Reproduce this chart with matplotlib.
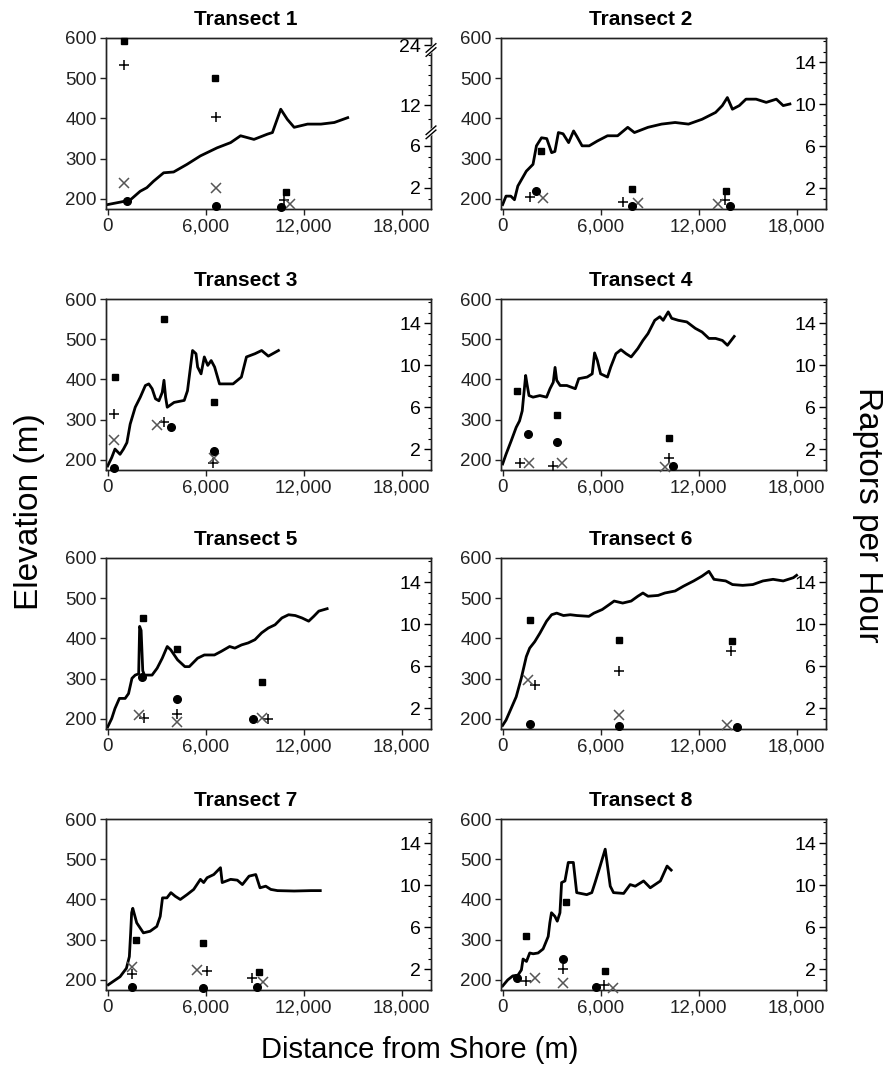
import matplotlib
matplotlib.use("Agg")
import matplotlib.pyplot as plt
import numpy as np
from matplotlib.ticker import FixedLocator, MultipleLocator

plt.rcParams['font.family'] = ['Liberation Sans', 'DejaVu Sans']

# elevation profiles (distance from shore m, elevation m)
t1_dist = [0, 760, 1370, 1990, 2400, 2810, 3430, 4040, 4860, 5680, 6700, 7530, 8140, 8960, 9780,
           10090, 10600, 11000, 11420, 12240, 13060, 13880, 14700]
t1_elev = [186, 192, 197, 219, 228, 244, 265, 267, 286, 307, 327, 340, 357, 348, 361,
           365, 423, 398, 378, 386, 386, 390, 402]

t2_dist = [0, 207, 500, 724, 930, 1450, 1860, 2070, 2380, 2700, 3000, 3200, 3415, 3700, 4040, 4345,
           4550, 4865, 5300, 5800, 6420, 7040, 7660, 8070, 8900, 9730, 10560, 11380, 12210, 13040,
           13450, 13760, 14070, 14490, 14900, 15520, 16140, 16760, 17180, 17590]
t2_elev = [186, 207, 207, 198, 232, 269, 286, 332, 352, 350, 315, 318, 365, 362, 340, 369,
           355, 332, 332, 344, 357, 357, 378, 365, 378, 386, 390, 386, 398, 415,
           432, 452, 423, 432, 448, 448, 440, 448, 432, 436]

t3_dist = [0, 250, 450, 760, 970, 1180, 1380, 1690, 2000, 2310, 2520, 2725, 2930, 3140, 3345, 3450,
           3550, 3650, 4070, 4690, 4890, 5200, 5410, 5510, 5720, 5920, 6130, 6340, 6550, 6850,
           7680, 8190, 8500, 9020, 9430, 9840, 10460]
t3_elev = [185, 206, 227, 214, 227, 243, 289, 331, 356, 385, 389, 377, 352, 347, 368, 398,
           356, 331, 343, 348, 372, 472, 464, 431, 414, 456, 435, 447, 431, 389,
           389, 406, 456, 464, 472, 458, 472]

t4_dist = [0, 207, 520, 830, 1035, 1200, 1280, 1410, 1490, 1615, 1860, 2280, 2690, 2900, 3100, 3210,
           3310, 3520, 3930, 4450, 4660, 5175, 5485, 5630, 5800, 6000, 6420, 6620, 6935, 7245,
           7560, 7870, 8280, 8590, 8900, 9315, 9625, 9830, 10140, 10350, 10760, 11280, 11800,
           12210, 12630, 13040, 13455, 13765, 14180]
t4_elev = [190, 214, 247, 281, 297, 322, 356, 410, 389, 360, 356, 360, 356, 377, 393, 430,
           398, 385, 385, 377, 402, 406, 414, 466, 447, 414, 406, 431, 464, 474,
           464, 456, 477, 497, 514, 547, 556, 547, 568, 552, 547, 543, 527,
           518, 502, 502, 497, 485, 507]

t5_dist = [0, 250, 450, 720, 1070, 1280, 1490, 1690, 1900, 1960, 2050, 2150, 2250, 2720, 3030, 3345,
           3650, 3860, 4280, 4730, 5000, 5510, 5920, 6540, 6960, 7470, 7790, 8200, 8610, 9020,
           9430, 9840, 10250, 10670, 11080, 11490, 11900, 12310, 12620, 12930, 13440]
t5_elev = [180, 201, 226, 251, 251, 263, 301, 309, 312, 430, 420, 320, 309, 309, 326, 351,
           380, 372, 347, 330, 330, 351, 359, 359, 368, 380, 376, 384, 389, 397,
           414, 426, 434, 451, 459, 457, 451, 443, 455, 468, 474]

t6_dist = [0, 207, 520, 830, 1140, 1450, 1655, 1965, 2280, 2690, 3000, 3310, 3725, 4140, 4550, 5280,
           5590, 6100, 6520, 6830, 7350, 7870, 8280, 8590, 8900, 9520, 9935, 10560, 11075, 11700,
           12210, 12630, 12940, 13660, 14075, 14700, 15320, 15940, 16560, 17180, 17800, 18000]
t6_elev = [184, 197, 226, 255, 301, 355, 376, 392, 413, 443, 459, 463, 457, 459, 457, 455,
           463, 472, 484, 493, 488, 493, 505, 513, 505, 507, 513, 518, 530, 543,
           555, 567, 547, 543, 534, 532, 534, 543, 547, 543, 551, 557]

t7_dist = [40, 760, 1150, 1330, 1410, 1470, 1540, 1780, 2190, 2600, 3010, 3220, 3360, 3630, 3875,
           4140, 4450, 4860, 5270, 5680, 5880, 6090, 6500, 6910, 7015, 7530, 7940, 8250, 8660,
           9070, 9330, 9680, 9990, 10400, 11420, 12450, 13020]
t7_elev = [188, 208, 229, 258, 317, 367, 378, 342, 317, 321, 333, 358, 404, 404, 417,
           408, 400, 412, 425, 450, 442, 454, 462, 479, 442, 450, 448, 437, 458,
           462, 429, 433, 425, 422, 421, 422, 422]

t8_dist = [0, 310, 620, 940, 1150, 1250, 1460, 1660, 1870, 2170, 2480, 2790, 2890, 2990, 3200, 3345,
           3510, 3610, 3815, 4020, 4330, 4535, 5150, 5460, 5660, 5970, 6280, 6380, 6590, 6790,
           7410, 7810, 8120, 8630, 9040, 9660, 10070, 10320]
t8_elev = [185, 200, 210, 212, 225, 252, 246, 267, 265, 267, 277, 308, 342, 367, 358, 346,
           367, 442, 446, 492, 492, 417, 412, 417, 442, 483, 525, 496, 433, 417,
           415, 437, 433, 446, 429, 446, 483, 473]

# raptors per hour at each count site: filled squares, plus, cross, filled circles
t1_sq_x, t1_sq = [1000, 6600, 10900], [24.8, 17.4, 1.6]
t1_pl_x, t1_pl = [1000, 6650, 10800], [20.0, 10.2, 0.85]
t1_cr_x, t1_cr = [1000, 6650, 11150], [2.5, 2.0, 0.5]
t1_ci_x, t1_ci = [1190, 6650, 10600], [0.75, 0.3, 0.2]

t2_sq_x, t2_sq = [2340, 7900, 13660], [5.56, 1.9, 1.75]
t2_pl_x, t2_pl = [1700, 7350, 13620], [1.1, 0.63, 0.9]
t2_cr_x, t2_cr = [2480, 8280, 13200], [1.08, 0.6, 0.48]
t2_ci_x, t2_ci = [2070, 7900, 13900], [1.7, 0.3, 0.3]

t3_sq_x, t3_sq = [450, 3450, 6500], [8.87, 14.4, 6.5]
t3_pl_x, t3_pl = [410, 3450, 6460], [5.35, 4.55, 0.63]
t3_cr_x, t3_cr = [410, 3030, 6500], [2.9, 4.25, 1.1]
t3_ci_x, t3_ci = [410, 3900, 6500], [0.15, 4.1, 1.8]

t4_sq_x, t4_sq = [870, 3310, 10200], [7.55, 5.28, 3.08]
t4_pl_x, t4_pl = [1035, 3060, 10200], [0.63, 0.38, 1.16]
t4_cr_x, t4_cr = [1590, 3620, 9940], [0.63, 0.69, 0.31]
t4_ci_x, t4_ci = [1550, 3350, 10450], [3.46, 2.67, 0.38]

t5_sq_x, t5_sq = [2170, 4230, 9430], [10.6, 7.67, 4.45]
t5_pl_x, t5_pl = [2210, 4230, 9840], [1.04, 1.42, 0.95]
t5_cr_x, t5_cr = [1900, 4230, 9430], [1.29, 0.63, 1.04]
t5_ci_x, t5_ci = [2100, 4230, 8910], [5.0, 2.87, 0.95]

t6_sq_x, t6_sq = [1655, 7140, 14030], [10.4, 8.5, 8.4]
t6_pl_x, t6_pl = [1965, 7100, 13990], [4.2, 5.55, 7.45]
t6_cr_x, t6_cr = [1550, 7100, 13760], [4.67, 1.3, 0.41]
t6_ci_x, t6_ci = [1655, 7100, 14360], [0.5, 0.32, 0.15]

t7_sq_x, t7_sq = [1740, 5840, 9270], [4.8, 4.5, 1.75]
t7_pl_x, t7_pl = [1470, 6070, 8820], [1.53, 1.8, 1.1]
t7_cr_x, t7_cr = [1470, 5500, 9520], [2.15, 1.9, 0.74]
t7_ci_x, t7_ci = [1470, 5840, 9160], [0.33, 0.2, 0.24]

t8_sq_x, t8_sq = [1460, 3900, 6270], [5.1, 8.4, 1.84]
t8_pl_x, t8_pl = [1420, 3710, 6230], [0.9, 2.0, 0.5]
t8_cr_x, t8_cr = [1970, 3710, 6750], [1.1, 0.64, 0.17]
t8_ci_x, t8_ci = [910, 3710, 5720], [1.1, 2.94, 0.24]

profiles = [(t1_dist, t1_elev), (t2_dist, t2_elev), (t3_dist, t3_elev), (t4_dist, t4_elev),
            (t5_dist, t5_elev), (t6_dist, t6_elev), (t7_dist, t7_elev), (t8_dist, t8_elev)]
counts = [
    (t1_sq_x, t1_sq, t1_pl_x, t1_pl, t1_cr_x, t1_cr, t1_ci_x, t1_ci),
    (t2_sq_x, t2_sq, t2_pl_x, t2_pl, t2_cr_x, t2_cr, t2_ci_x, t2_ci),
    (t3_sq_x, t3_sq, t3_pl_x, t3_pl, t3_cr_x, t3_cr, t3_ci_x, t3_ci),
    (t4_sq_x, t4_sq, t4_pl_x, t4_pl, t4_cr_x, t4_cr, t4_ci_x, t4_ci),
    (t5_sq_x, t5_sq, t5_pl_x, t5_pl, t5_cr_x, t5_cr, t5_ci_x, t5_ci),
    (t6_sq_x, t6_sq, t6_pl_x, t6_pl, t6_cr_x, t6_cr, t6_ci_x, t6_ci),
    (t7_sq_x, t7_sq, t7_pl_x, t7_pl, t7_cr_x, t7_cr, t7_ci_x, t7_ci),
    (t8_sq_x, t8_sq, t8_pl_x, t8_pl, t8_cr_x, t8_cr, t8_ci_x, t8_ci),
]

x_ticks = [0, 6000, 12000, 18000]
x_labels = ['0', '6,000', '12,000', '18,000']
elev_ticks = [200, 300, 400, 500, 600]
rate_ticks = [2, 6, 10, 14]
t1_rate_ticks = [2, 6, 12, 24]

# transect 1 has a broken right axis: piecewise linear scale
brk_v = [-10, 0, 6, 12, 24, 60]
brk_p = [-105, 0, 63, 104, 164, 344]


def fwd(v):
    return np.interp(v, brk_v, brk_p)


def inv(p):
    return np.interp(p, brk_p, brk_v)


W, H = 885, 1079
fig = plt.figure(figsize=(W / 100, H / 100), dpi=100)

col_left = [106, 501]
row_top = [38, 299, 558, 819]
ax_w, ax_h = 325, 171

for i in range(8):
    r, c = divmod(i, 2)
    left = col_left[c] / W
    bottom = 1 - (row_top[r] + ax_h) / H
    ax = fig.add_axes([left, bottom, ax_w / W, ax_h / H])
    dist, elev = profiles[i]
    ax.plot(dist, elev, color='black', lw=2, zorder=2)
    ax.set_xlim(-100, 19800)
    ax.set_ylim(175, 600)
    ax.set_xticks(x_ticks)
    ax.set_xticklabels(x_labels)
    ax.set_yticks(elev_ticks)
    ax.tick_params(axis='both', direction='out', length=4, width=1, labelsize=13.5,
                   pad=2.5, colors='#222222')
    ax.text(0.43, 1.075, f'Transect {i + 1}', transform=ax.transAxes, ha='center',
            va='baseline', fontsize=15, fontweight='bold')

    ax2 = ax.twinx()
    if i == 0:
        ax2.set_yscale('function', functions=(fwd, inv))
        ax2.set_ylim(0, 25.4)
        ax2.yaxis.set_major_locator(FixedLocator(t1_rate_ticks))
        ax2.yaxis.set_minor_locator(FixedLocator([1, 3, 4, 5, 8, 10, 14, 16, 18, 20, 22]))
    else:
        ax2.set_ylim(0, 16.3)
        ax2.yaxis.set_major_locator(FixedLocator(rate_ticks))
        ax2.yaxis.set_minor_locator(MultipleLocator(1))
    ax2.tick_params(axis='y', which='major', direction='in', length=5, width=1,
                    labelsize=14, pad=-7)
    ax2.tick_params(axis='y', which='minor', direction='in', length=2.5, width=0.8)
    for lab in ax2.get_yticklabels():
        lab.set_ha('right')

    sx, sv, px, pv, cx, cv, ox, ov = counts[i]
    ax2.plot(sx, sv, 's', color='black', ms=5, clip_on=False, zorder=3)
    ax2.plot(px, pv, '+', color='black', ms=7, mew=1.1, clip_on=False, zorder=3)
    ax2.plot(cx, cv, 'x', color='#555555', ms=6.5, mew=1.1, clip_on=False, zorder=3)
    ax2.plot(ox, ov, 'o', color='black', ms=5.5, clip_on=False, zorder=3)

    if i == 0:
        # axis break marks on the right spine
        for v in [8.0, 23.0]:
            yf = (fwd(v) - fwd(0)) / (fwd(25.4) - fwd(0))
            ax2.plot([0.992, 1.008], [yf - 0.012, yf + 0.012], transform=ax2.transAxes,
                     color='white', lw=4, clip_on=False, zorder=5)
            for d in (-0.012, 0.012):
                ax2.plot([0.985, 1.015], [yf + d - 0.025, yf + d + 0.025],
                         transform=ax2.transAxes, color='black', lw=1, clip_on=False, zorder=6)

    for a in (ax, ax2):
        for s in a.spines.values():
            s.set_linewidth(1)
            s.set_color('#222222')

fig.text(30 / W, 1 - 512 / H, 'Elevation (m)', rotation=90, ha='center', va='center', fontsize=24)
fig.text(868 / W, 1 - 515 / H, 'Raptors per Hour', rotation=270, ha='center', va='center',
         fontsize=24)
fig.text(420 / W, 1 - 1050 / H, 'Distance from Shore (m)', ha='center', va='center', fontsize=21)

fig.savefig('out.png', dpi=100)
